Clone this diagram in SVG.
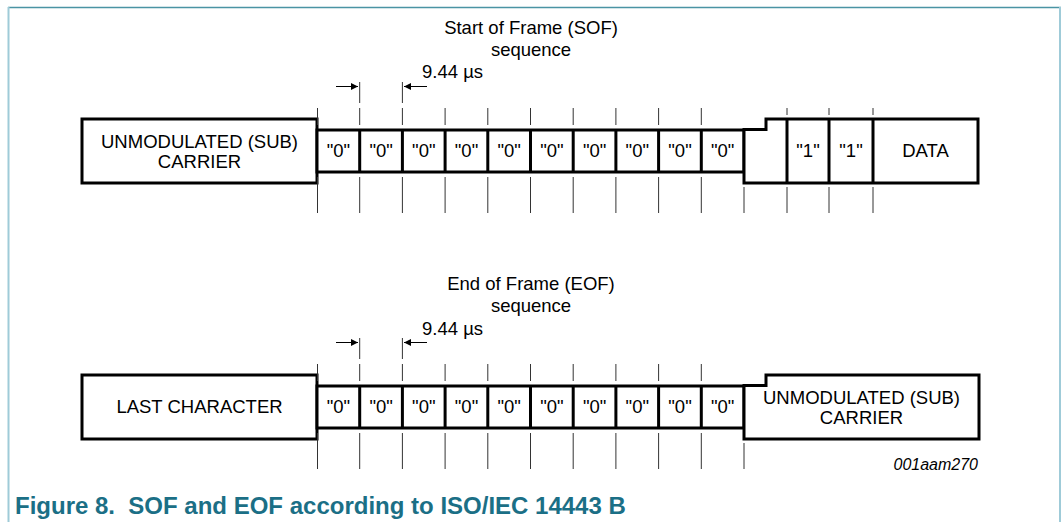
<svg xmlns="http://www.w3.org/2000/svg" width="1062" height="522" viewBox="0 0 1062 522">
<defs>
<style>
.box{fill:#fff;stroke:#000;stroke-width:3;stroke-linejoin:miter}
.cell{fill:none;stroke:#000;stroke-width:3}
.tick{stroke:#333;stroke-width:1;fill:none}
.dim{stroke:#000;stroke-width:1;fill:none}
text{font-family:"Liberation Sans",Arial,sans-serif;fill:#000}
.lbl{font-size:18.5px;text-anchor:middle}
.dl{font-size:18.5px}
.id{font-size:16px;font-style:italic;text-anchor:end}
.cap{font-size:24px;font-weight:bold;fill:#1b6f86}
</style>
<marker id="ah" viewBox="0 0 10 10" refX="10" refY="5" markerWidth="10" markerHeight="7" orient="auto" markerUnits="userSpaceOnUse">
<path d="M0,0 L10,5 L0,10 z" fill="#000"/>
</marker>
</defs>
<rect width="1062" height="522" fill="#fff"/>
<g id="frame">
<line x1="8" y1="7.5" x2="1061" y2="7.5" stroke="#4a94a4" stroke-width="1.5"/>
<line x1="8.5" y1="7" x2="8.5" y2="522" stroke="#9fcbd8" stroke-width="2"/>
<line x1="1060" y1="7" x2="1060" y2="522" stroke="#9fcbd8" stroke-width="2"/>
</g>

<!-- SOF -->
<g id="sof-title">
<text class="lbl" x="531" y="34">Start of Frame (SOF)</text>
<text class="lbl" x="531" y="56">sequence</text>
</g>
<g id="sof-carrier">
<rect class="box" x="82" y="119" width="235" height="64"/>
<text class="lbl" x="199.5" y="148">UNMODULATED (SUB)</text>
<text class="lbl" x="199.5" y="168">CARRIER</text>
</g>
<g id="sof-zeros">
<rect class="box" x="317" y="130" width="427" height="42"/>
<path class="cell" d="M359.7,130V172M402.4,130V172M445.1,130V172M487.8,130V172M530.5,130V172M573.2,130V172M615.9,130V172M658.6,130V172M701.3,130V172"/>
<text class="lbl" x="338.4" y="157">"0"</text>
<text class="lbl" x="381.1" y="157">"0"</text>
<text class="lbl" x="423.8" y="157">"0"</text>
<text class="lbl" x="466.5" y="157">"0"</text>
<text class="lbl" x="509.2" y="157">"0"</text>
<text class="lbl" x="551.9" y="157">"0"</text>
<text class="lbl" x="594.6" y="157">"0"</text>
<text class="lbl" x="637.3" y="157">"0"</text>
<text class="lbl" x="680" y="157">"0"</text>
<text class="lbl" x="722.7" y="157">"0"</text>
</g>
<g id="sof-tail">
<path class="box" d="M744,129.5H766V119H978V183H744Z"/>
<path class="cell" d="M787,119V183M829,119V183M873,119V183"/>
<text class="lbl" x="808" y="157">"1"</text>
<text class="lbl" x="851" y="157">"1"</text>
<text class="lbl" x="925.5" y="157">DATA</text>
</g>

<!-- EOF -->
<g id="eof-title">
<text class="lbl" x="531" y="290">End of Frame (EOF)</text>
<text class="lbl" x="531" y="312">sequence</text>
</g>
<g id="eof-last">
<rect class="box" x="82" y="375" width="235" height="64"/>
<text class="lbl" x="199.5" y="413">LAST CHARACTER</text>
</g>
<g id="eof-zeros">
<rect class="box" x="317" y="386" width="427" height="42"/>
<path class="cell" d="M359.7,386V428M402.4,386V428M445.1,386V428M487.8,386V428M530.5,386V428M573.2,386V428M615.9,386V428M658.6,386V428M701.3,386V428"/>
<text class="lbl" x="338.4" y="413">"0"</text>
<text class="lbl" x="381.1" y="413">"0"</text>
<text class="lbl" x="423.8" y="413">"0"</text>
<text class="lbl" x="466.5" y="413">"0"</text>
<text class="lbl" x="509.2" y="413">"0"</text>
<text class="lbl" x="551.9" y="413">"0"</text>
<text class="lbl" x="594.6" y="413">"0"</text>
<text class="lbl" x="637.3" y="413">"0"</text>
<text class="lbl" x="680" y="413">"0"</text>
<text class="lbl" x="722.7" y="413">"0"</text>
</g>
<g id="eof-carrier">
<path class="box" d="M744,385.5H766V375H979V439H744Z"/>
<text class="lbl" x="861.5" y="404">UNMODULATED (SUB)</text>
<text class="lbl" x="861.5" y="424">CARRIER</text>
</g>

<g id="connectors">
<!-- SOF ticks -->
<path class="tick" d="M317.5,108V125M359.7,108V125M402.4,108V125M445.1,108V125M487.8,108V125M530.5,108V125M573.2,108V125M615.9,108V125M658.6,108V125M701.3,108V125M787,108V115M829,108V115M873,108V115"/>
<path class="tick" d="M359.7,82V103M402.4,82V103"/>
<path class="tick" d="M317.5,177V213M359.7,177V213M402.4,177V213M445.1,177V213M487.8,177V213M530.5,177V213M573.2,177V213M615.9,177V213M658.6,177V213M701.3,177V213M744,187V213M787,187V213M829,187V213M873,187V213"/>
<line class="dim" x1="336" y1="86.5" x2="358" y2="86.5" marker-end="url(#ah)"/>
<line class="dim" x1="427" y1="86.5" x2="404" y2="86.5" marker-end="url(#ah)"/>
<!-- EOF ticks -->
<path class="tick" d="M317.5,364V381M359.7,364V381M402.4,364V381M445.1,364V381M487.8,364V381M530.5,364V381M573.2,364V381M615.9,364V381M658.6,364V381M701.3,364V381"/>
<path class="tick" d="M359.7,338V359M402.4,338V359"/>
<path class="tick" d="M317.5,433V469M359.7,433V469M402.4,433V469M445.1,433V469M487.8,433V469M530.5,433V469M573.2,433V469M615.9,433V469M658.6,433V469M701.3,433V469M744,443V469"/>
<line class="dim" x1="336" y1="342.5" x2="358" y2="342.5" marker-end="url(#ah)"/>
<line class="dim" x1="427" y1="342.5" x2="404" y2="342.5" marker-end="url(#ah)"/>
</g>
<g id="dims">
<text class="dl" x="422" y="78">9.44 µs</text>
<text class="dl" x="422" y="335">9.44 µs</text>
</g>
<text class="id" x="978" y="470">001aam270</text>
<text class="cap" x="15" y="514" xml:space="preserve">Figure 8.  SOF and EOF according to ISO/IEC 14443 B</text>
</svg>
